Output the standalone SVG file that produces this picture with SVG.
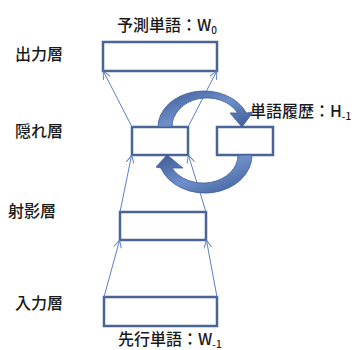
<svg xmlns="http://www.w3.org/2000/svg" width="352" height="350" viewBox="0 0 352 350">
<defs>
<style>
.box{fill:#fff;stroke:#4A6496;stroke-width:2.5}
.lbl{font-family:"Noto Sans CJK JP","Noto Sans",sans-serif;font-size:16px;font-weight:500;fill:#1a1a1a}
.sub{font-size:10px}
.con{stroke:#5B80C8;stroke-width:1;fill:none;marker-end:url(#ah)}
.big{fill:url(#g);stroke:#3E5C96;stroke-width:0.8}
</style>
<marker id="ah" viewBox="0 0 10 10" refX="9.5" refY="5" markerWidth="8" markerHeight="8" orient="auto" markerUnits="userSpaceOnUse">
<path d="M0,0 L10,5 L0,10" fill="none" stroke="#5B80C8" stroke-width="1.2"/>
</marker>
<linearGradient id="g" x1="0" y1="0" x2="1" y2="1">
<stop offset="0" stop-color="#3B5A94"/>
<stop offset="0.5" stop-color="#6F8FCB"/>
<stop offset="1" stop-color="#3B5A94"/>
</linearGradient>
</defs>
<g id="labels">
<text class="lbl" x="15" y="60">出力層</text>
<text class="lbl" x="15" y="137">隠れ層</text>
<text class="lbl" x="8" y="217">射影層</text>
<text class="lbl" x="15" y="309">入力層</text>
</g>
<g id="out"><rect class="box" x="103" y="42" width="114" height="29"/><text class="lbl" x="117" y="31">予測単語：W<tspan class="sub" dy="3">0</tspan></text></g>
<g id="hidden"><rect class="box" x="132" y="127" width="56" height="28"/></g>
<g id="history"><rect class="box" x="217" y="127" width="56" height="28"/><text class="lbl" x="250" y="117">単語履歴：H<tspan class="sub" dy="3">-1</tspan></text></g>
<g id="proj"><rect class="box" x="120" y="212" width="86" height="28"/></g>
<g id="in"><rect class="box" x="104" y="297" width="113" height="29"/><text class="lbl" x="118" y="345">先行単語：W<tspan class="sub" dy="3">-1</tspan></text></g>
<g id="connectors">
<line class="con" x1="132" y1="127" x2="103.5" y2="71.5"/>
<line class="con" x1="188" y1="127" x2="216.5" y2="71.5"/>
<line class="con" x1="120" y1="212" x2="131.5" y2="155.5"/>
<line class="con" x1="206" y1="212" x2="188.5" y2="155.5"/>
<line class="con" x1="104" y1="297" x2="119.5" y2="240.5"/>
<line class="con" x1="217" y1="297" x2="206.5" y2="240.5"/>
<path class="big" d="M158,127 A46,36 0 0 1 246.4,113 L253,112 L242,127 L230,113 L237.7,113 A35,29 0 0 0 172,127 Z"/>
<path class="big" d="M252,155 A47,38 0 0 1 160.8,168 L156,167 L167,155 L183,168 L172,168 A35,28 0 0 0 238,155 Z"/>
</g>
</svg>
